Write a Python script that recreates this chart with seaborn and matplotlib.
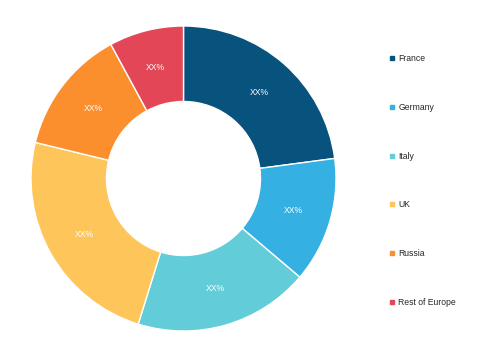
import matplotlib
matplotlib.use("Agg")
import matplotlib.pyplot as plt
from matplotlib.lines import Line2D
import seaborn as sns
import numpy as np

categories = ["France", "Germany", "Italy", "UK", "Russia", "Rest of Europe"]
shares = [22.9, 13.3, 18.6, 24.0, 13.3, 7.9]
labels = ["XX%"] * 6
colors = ["#08527E", "#35B0E2", "#62CDD8", "#FEC55A", "#FB8E2D", "#E34657"]

sns.set_theme(style="white")
plt.rcParams['font.family'] = ['Liberation Sans', 'DejaVu Sans']

fig = plt.figure(figsize=(5.0, 3.53), dpi=100)
ax = fig.add_axes([31/500, 22/353, 305/500, 305/353])
wedges, _ = ax.pie(shares, colors=colors, startangle=90, counterclock=False,
                   radius=1.0, wedgeprops=dict(width=0.495, edgecolor="white", linewidth=1.0))
ang = 90.0
for w, lab in zip(shares, labels):
    mid = np.deg2rad(ang - w * 3.6 / 2)
    ang -= w * 3.6
    ax.text(0.75 * np.cos(mid), 0.75 * np.sin(mid), lab, ha="center", va="center",
            color="white", fontsize=6.2)
ax.set_xlim(-1.0, 1.0)
ax.set_ylim(-1.0, 1.0)
ax.set_aspect("equal")
ax.axis("off")

handles = [Line2D([0], [0], marker="s", linestyle="none", markersize=3.2,
                  markerfacecolor=c, markeredgecolor=c) for c in colors]
fig.legend(handles, categories, loc="upper left", bbox_to_anchor=(389/500, 1 - 54/353),
           frameon=False, fontsize=6.2, labelspacing=4.62, handlelength=0.6,
           handletextpad=0.5, borderaxespad=0, borderpad=0)

fig.savefig("out.png", dpi=100)
